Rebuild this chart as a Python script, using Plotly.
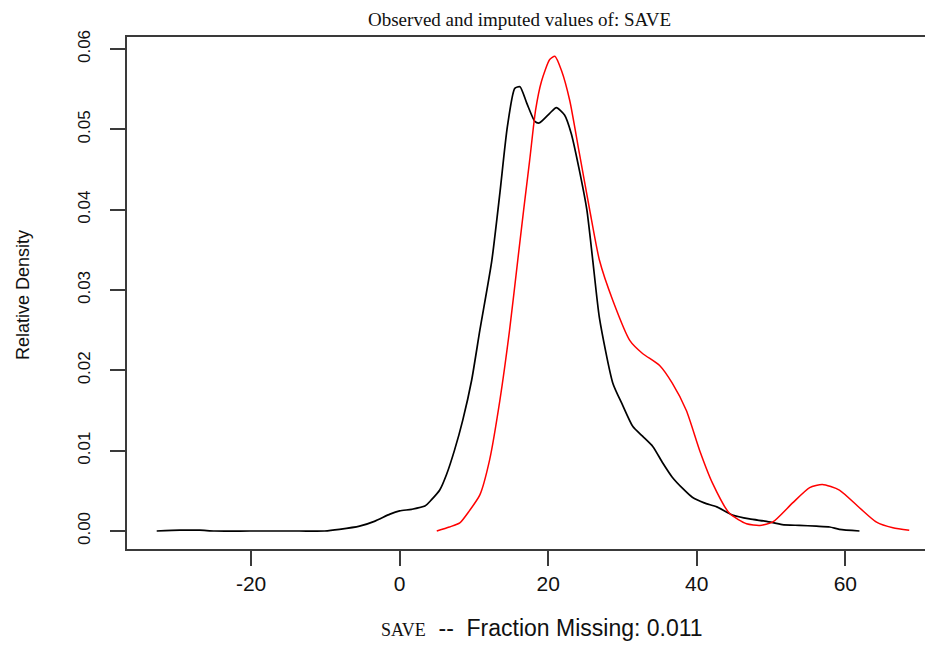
import plotly.graph_objects as go

# Observed (black) density curve
obs_x = [-32.7, -29.6, -26.9, -24.9, -20.2, -13.5, -10.1, -8.1, -5.4, -3.4, -1.3, 0.0, 1.6, 3.4, 4.3, 5.4,
         6.3, 7.4, 8.5, 9.7, 10.8, 12.4, 13.5, 14.5, 15.5, 16.2, 17.1, 18.2, 18.8, 20.2, 21.1, 22.2, 23.1,
         24.2, 25.2, 26.0, 26.9, 28.7, 30.0, 31.4, 32.7, 34.1, 35.4, 36.7, 38.1, 39.4, 41.0, 42.7, 44.8,
         47.1, 49.4, 51.5, 53.8, 56.1, 57.9, 59.2, 61.9]
obs_y = [0.0000, 0.0001, 0.0001, 0.0000, 0.0000, 0.0000, 0.0000, 0.0002, 0.0006, 0.0012, 0.0021, 0.0025,
         0.0027, 0.0031, 0.0039, 0.0051, 0.0070, 0.0101, 0.0138, 0.0188, 0.0250, 0.0336, 0.0421, 0.0503,
         0.0551, 0.0553, 0.0533, 0.0510, 0.0508, 0.0520, 0.0527, 0.0518, 0.0495, 0.0449, 0.0400, 0.0337,
         0.0265, 0.0184, 0.0157, 0.0130, 0.0118, 0.0105, 0.0085, 0.0067, 0.0053, 0.0042, 0.0035, 0.0030,
         0.0020, 0.0015, 0.0012, 0.0008, 0.0007, 0.0006, 0.0005, 0.0002, 0.0000]

# Imputed (red) density curve
imp_x = [5.0, 6.7, 8.1, 9.3, 10.8, 12.1, 13.5, 14.8, 15.9, 16.7, 17.5, 18.3, 19.1, 20.2, 20.9, 21.8, 22.9,
         24.2, 25.6, 26.9, 28.7, 31.0, 32.7, 35.0, 36.7, 38.6, 40.4, 42.1, 44.4, 46.7, 48.5, 50.2, 52.9,
         55.2, 56.9, 59.2, 61.9, 64.2, 66.4, 68.6]
imp_y = [0.0000, 0.0005, 0.0010, 0.0024, 0.0045, 0.0088, 0.0163, 0.0250, 0.0337, 0.0400, 0.0461, 0.0524,
         0.0560, 0.0587, 0.0591, 0.0573, 0.0536, 0.0470, 0.0399, 0.0337, 0.0287, 0.0237, 0.0221, 0.0206,
         0.0184, 0.0150, 0.0100, 0.0060, 0.0022, 0.0009, 0.0007, 0.0011, 0.0035, 0.0054, 0.0058, 0.0051,
         0.0029, 0.0011, 0.0004, 0.0001]

x_ticks = [-20, 0, 20, 40, 60]
x_tick_labels = ["-20", "0", "20", "40", "60"]
y_ticks = [0.00, 0.01, 0.02, 0.03, 0.04, 0.05, 0.06]
y_tick_labels = ["0.00", "0.01", "0.02", "0.03", "0.04", "0.05", "0.06"]

title_text = "Observed and imputed values of: SAVE"
x_title_var = "SAVE"
x_title_rest = "--  Fraction Missing: 0.011"
y_title_text = "Relative Density"

OFF = 8  # default page body margin
W, H = 933 - OFF, 645 - OFF
L, T = 127 - OFF, 37 - OFF
B = H - (549 - OFF)
R = 0
axis_col = "#3a3a3a"

fig = go.Figure()
fig.add_trace(go.Scatter(x=obs_x, y=obs_y, mode="lines",
                         line=dict(color="#000000", width=1.7, shape="spline", smoothing=0.6),
                         hoverinfo="skip", showlegend=False))
fig.add_trace(go.Scatter(x=imp_x, y=imp_y, mode="lines",
                         line=dict(color="#ff0000", width=1.5, shape="spline", smoothing=0.6),
                         hoverinfo="skip", showlegend=False))

sans = "Liberation Sans, Arial, sans-serif"
serif = "Liberation Serif, Times New Roman, serif"

fig.update_layout(
    width=W, height=H,
    margin=dict(l=L, r=R, t=T, b=B),
    paper_bgcolor="white", plot_bgcolor="white",
    showlegend=False,
    xaxis=dict(range=[-36.7, 71.8], tickvals=x_ticks, ticktext=x_tick_labels,
               ticks="outside", ticklen=15,
               tickwidth=1.5, tickcolor=axis_col, showline=True, linecolor=axis_col,
               linewidth=1.8, mirror=True, showgrid=False, zeroline=False,
               tickfont=dict(family=sans, size=21, color="#111"), ticklabelstandoff=0),
    yaxis=dict(range=[-0.00224, 0.0615], tickvals=y_ticks, ticktext=y_tick_labels,
               ticks="outside", ticklen=15, tickwidth=1.5, tickcolor=axis_col,
               showline=True, linecolor=axis_col, linewidth=1.8, mirror=False,
               showgrid=False, zeroline=False, tickangle=-90,
               tickfont=dict(family=sans, size=17, color="#111"), ticklabelstandoff=13),
)

PW = W - L - R
PH = H - T - B

def pxx(px):  # page pixel x -> paper
    return (px - OFF - L) / PW

def pxy(py):  # page pixel y -> paper
    return 1 - (py - OFF - T) / PH

fig.add_annotation(text=title_text, xref="paper", yref="paper",
                   x=pxx(519), y=pxy(19),
                   xanchor="center", yanchor="middle", showarrow=False,
                   font=dict(family=serif, size=19, color="#111"))
fig.add_annotation(text=f'<span style="font-family:{serif};font-size:18px">{x_title_var}</span>  {x_title_rest}',
                   xref="paper", yref="paper",
                   x=pxx(542), y=pxy(628),
                   xanchor="center", yanchor="middle", showarrow=False,
                   font=dict(family=sans, size=23, color="#111"))
fig.add_annotation(text=y_title_text, xref="paper", yref="paper",
                   x=pxx(23), y=pxy(295),
                   xanchor="center", yanchor="middle", showarrow=False, textangle=-90,
                   font=dict(family=sans, size=18, color="#111"))

fig.write_html("out.html")
